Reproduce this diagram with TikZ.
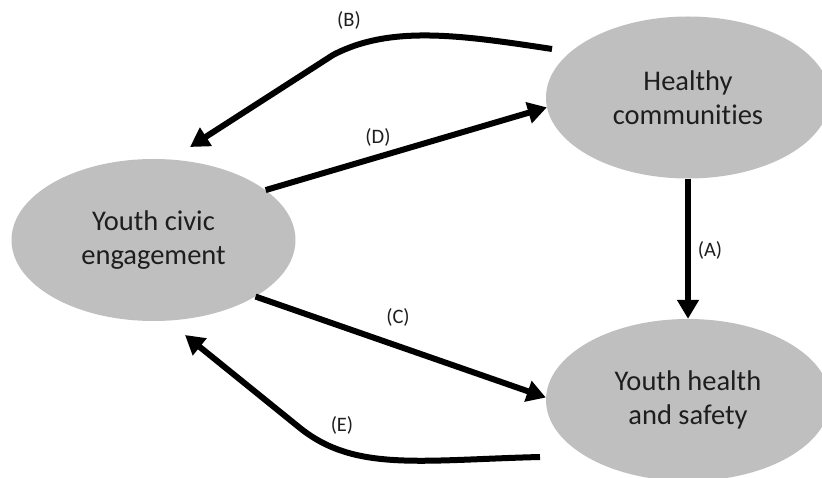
\documentclass[tikz,border=0pt]{standalone}
\usepackage{fontspec}
\setmainfont[Ligatures=NoCommon]{Carlito}
\usetikzlibrary{shapes.geometric,arrows.meta}
\definecolor{ellgray}{HTML}{BFBFBF}
\definecolor{txt}{HTML}{1E1E1E}
\tikzset{
  blob/.style={ellipse, fill=ellgray, draw=none, minimum width=284pt, minimum height=162pt,
    inner sep=0pt, align=center, text=txt, font=\fontsize{28.5}{34}\selectfont},
  conn/.style={line width=6pt, -{Triangle[length=19pt,width=21pt]}},
  lbl/.style={text=txt, font=\fontsize{20.5}{24}\selectfont, inner sep=0pt}
}
\begin{document}
\begin{tikzpicture}[x=1pt,y=1pt]
\useasboundingbox (0,0) rectangle (822,477);
\fill[white] (0,0) rectangle (822,477);
\node[blob] (hc) at (688,379.5) {Healthy\\communities};
\node[blob] (yce) at (153.5,237) {Youth civic\\engagement};
\node[blob] (yhs) at (688,77) {Youth health\\and safety};
% free ends
\coordinate (bs) at (552,428);
\coordinate (bt) at (190,330);
\coordinate (es) at (540,20);
\coordinate (et) at (185,142);
% (A)
\draw[conn] (hc.south) -- (yhs.north);
% (D)
\draw[conn] (yce.24) -- (hc.184);
% (C)
\draw[conn] (yce.-29) -- (yhs.179);
% (B)
\draw[conn] (bs) .. controls (460,442) and (390,452) .. (333,422) -- (bt);
% (E)
\draw[conn] (es) .. controls (420,17) and (355,5) .. (300,49) -- (et);
% labels
\node[lbl] (la) at (710,227) {(A)};
\node[lbl] (lb) at (349,457) {(B)};
\node[lbl] (lc) at (398,160) {(C)};
\node[lbl] (ld) at (378,340) {(D)};
\node[lbl] (le) at (342,52) {(E)};
\end{tikzpicture}
\end{document}
